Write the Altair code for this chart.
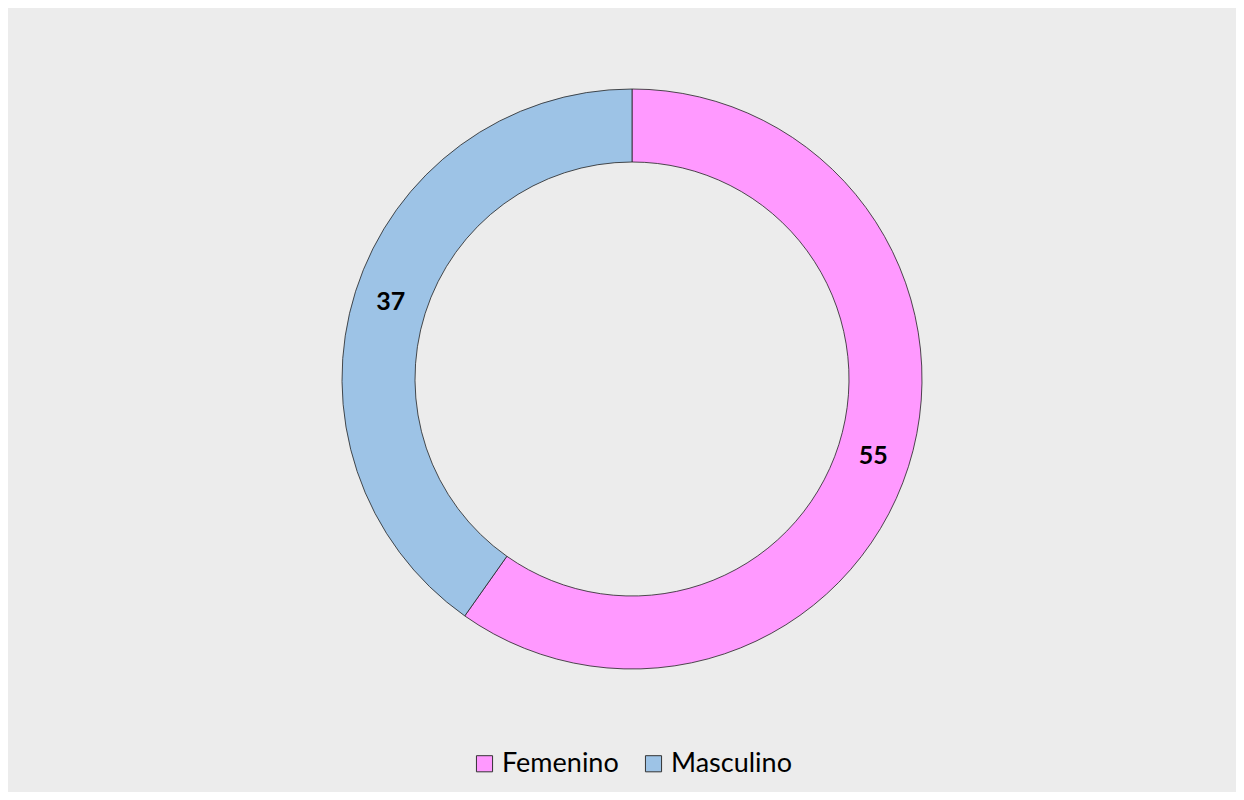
import altair as alt
import pandas as pd

categories = ["Femenino", "Masculino"]
values = [55, 37]
colors = ["#FF99FF", "#9DC3E6"]

df = pd.DataFrame({"sexo": categories, "n": values, "orden": [0, 1]})

CX, CY = 624, 371

base = alt.Chart(df).encode(
    theta=alt.Theta("n:Q", stack=True),
    order=alt.Order("orden:Q"),
)

arcs = base.mark_arc(radius=290, radius2=217, stroke="#222222", strokeWidth=0.8).encode(
    x=alt.value(CX),
    y=alt.value(CY),
    color=alt.Color(
        "sexo:N",
        scale=alt.Scale(domain=categories, range=colors),
        sort=categories,
        legend=alt.Legend(
            title=None,
            orient="none",
            legendX=463,
            legendY=742,
            direction="horizontal",
            symbolType="square",
            symbolSize=260,
            symbolStrokeColor="#333333",
            symbolStrokeWidth=1,
            labelFont="Lato",
            labelFontSize=27,
            labelColor="#000000",
            columnPadding=21,
            labelOffset=4,
        ),
    ),
)

labels = base.mark_text(radius=253, font="Lato", fontSize=25, fontWeight="bold", color="#000000").encode(
    x=alt.value(CX),
    y=alt.value(CY),
    text=alt.Text("n:Q"),
)

chart = (
    alt.layer(arcs, labels)
    .properties(width=1228, height=784, background="#ececec", padding=0, autosize=alt.AutoSizeParams(type="none"))
    .configure_view(strokeWidth=0)
)

chart.save("out.html", embed_options={"renderer": "svg", "actions": False})
